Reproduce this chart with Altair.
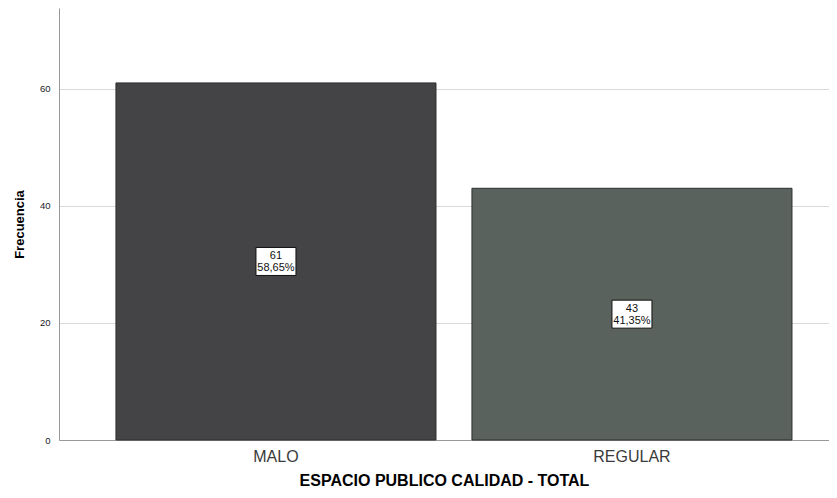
import altair as alt
import pandas as pd

categories = ["MALO", "REGULAR"]
counts = [61, 43]
percents = ["58,65%", "41,35%"]
colors = ["#444447", "#59625d"]

df = pd.DataFrame({
    "cat": categories,
    "n": counts,
    "half": [c / 2 for c in counts],
    "label": [f"{c}\n{p}" for c, p in zip(counts, percents)],
    "color": colors,
})

FONT = "Liberation Sans"

x = alt.X("cat:N", sort=categories,
          scale=alt.Scale(paddingInner=0.101, paddingOuter=0.132, align=0.606),
          axis=alt.Axis(title="ESPACIO PUBLICO CALIDAD - TOTAL", labelAngle=0,
                        ticks=False, labelFontSize=16, labelColor="#3a3a3a",
                        labelFont=FONT, labelPadding=8, titleFont=FONT,
                        titleFontSize=16, titleFontWeight="bold", titleColor="#000000",
                        titlePadding=8, domainColor="#999999"))

bars = alt.Chart(df).mark_bar(stroke="#2e2e2e", strokeWidth=1).encode(
    x=x,
    y=alt.Y("n:Q", scale=alt.Scale(domain=[0, 73.8], nice=False),
            axis=alt.Axis(title="Frecuencia", values=[0, 20, 40, 60], ticks=False,
                          labelFontSize=9.5, labelColor="#222222", labelFont=FONT,
                          labelPadding=9, titleFont=FONT, titleFontSize=13,
                          titleFontWeight="bold", titleColor="#000000",
                          titlePadding=13, gridColor="#d9d9d9", domainColor="#999999")),
    color=alt.Color("color:N", scale=None),
)

boxes = alt.Chart(df).mark_point(
    shape="M-1,-0.7H1V0.7H-1Z", size=1600, filled=True, fill="white",
    stroke="#111111", strokeWidth=1, opacity=1
).encode(x=x, y=alt.Y("half:Q"))

texts = alt.Chart(df).mark_text(
    fontSize=11, font=FONT, color="#111111", lineBreak="\n", lineHeight=11.5,
    baseline="middle", align="center", dy=-5
).encode(x=x, y=alt.Y("half:Q"), text="label:N")

chart = alt.layer(bars, boxes, texts).properties(
    width=770, height=432,
    padding={"left": 51, "top": 0, "right": 0, "bottom": 50},
    autosize=alt.AutoSizeParams(type="none"),
    background="white",
).configure_view(stroke=None)

chart.save("out.html", embed_options={"renderer": "svg", "actions": False})
